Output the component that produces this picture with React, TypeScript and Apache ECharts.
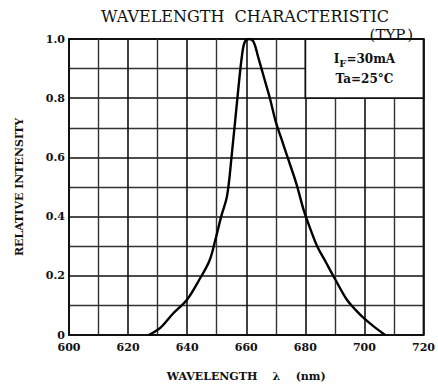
import React, { useEffect, useRef } from "react";
import * as echarts from "echarts";

const wavelengths = [627, 631, 635, 640, 644, 647.5, 649.5, 651.5, 653.5, 655, 657, 658.5, 659.5, 661, 662.5, 664, 666, 668, 670, 672, 674, 677, 679.5, 682, 684, 687, 690, 694, 697, 700, 703, 707];
const intensities = [0, 0.025, 0.07, 0.12, 0.185, 0.25, 0.32, 0.4, 0.47, 0.6, 0.8, 0.94, 0.99, 1.0, 0.99, 0.94, 0.87, 0.8, 0.72, 0.66, 0.6, 0.51, 0.42, 0.35, 0.3, 0.245, 0.19, 0.12, 0.085, 0.055, 0.03, 0];
const xTicks = [600, 620, 640, 660, 680, 700, 720];
const yTicks = [0, 0.2, 0.4, 0.6, 0.8, 1.0];
const noteBox = { x0: 680, x1: 720, y0: 0.8, y1: 1.0 };

const FONT = "DejaVu Serif";

export default function App() {
  const ref = useRef<HTMLDivElement>(null);
  useEffect(() => {
    if (!ref.current) return;
    const chart = echarts.init(ref.current, null, { renderer: "svg" });
    const lineColor = "#111";
    chart.setOption({
      animation: false,
      backgroundColor: "#fff",
      title: [
        {
          text: "WAVELENGTH  CHARACTERISTIC",
          left: 96,
          top: 3,
          textStyle: { fontFamily: FONT, fontSize: 16, fontWeight: "normal", color: "#111" },
        },
        {
          text: "(TYP.)",
          right: 20,
          top: 22,
          textStyle: { fontFamily: FONT, fontSize: 15, fontWeight: "normal", color: "#111" },
        },
      ],
      grid: {
        left: 69,
        top: 39,
        right: 14,
        bottom: 51,
        show: true,
        borderColor: lineColor,
        borderWidth: 1.8,
        backgroundColor: "transparent",
      },
      xAxis: {
        type: "value",
        min: xTicks[0],
        max: xTicks[xTicks.length - 1],
        interval: 20,
        name: "WAVELENGTH    λ    (nm)",
        nameLocation: "middle",
        nameGap: 36,
        nameTextStyle: { fontFamily: FONT, fontSize: 11, fontWeight: "bold", color: "#111" },
        axisLine: { show: true, lineStyle: { color: lineColor, width: 1.8 } },
        axisTick: { show: false },
        axisLabel: { fontFamily: FONT, fontSize: 11, fontWeight: "bold", color: "#111", margin: 7 },
        splitLine: { show: true, lineStyle: { color: lineColor, width: 1.6 } },
        minorTick: { show: false, splitNumber: 2 },
        minorSplitLine: { show: true, lineStyle: { color: "#333", width: 1.4 } },
      },
      yAxis: {
        type: "value",
        min: yTicks[0],
        max: yTicks[yTicks.length - 1],
        interval: 0.2,
        name: "RELATIVE INTENSITY",
        nameLocation: "middle",
        nameGap: 44,
        nameTextStyle: { fontFamily: FONT, fontSize: 11, fontWeight: "bold", color: "#111" },
        axisLine: { show: true, lineStyle: { color: lineColor, width: 1.8 } },
        axisTick: { show: false },
        axisLabel: {
          fontFamily: FONT,
          fontSize: 11,
          fontWeight: "bold",
          color: "#111",
          margin: 4,
          formatter: (v: number) => (v === 0 ? "0" : v.toFixed(1)),
        },
        splitLine: { show: true, lineStyle: { color: lineColor, width: 1.6 } },
        minorTick: { show: false, splitNumber: 2 },
        minorSplitLine: { show: true, lineStyle: { color: "#333", width: 1.4 } },
      },
      series: [
        {
          type: "line",
          data: wavelengths.map((w, i) => [w, intensities[i]]),
          smooth: 0.35,
          symbol: "none",
          lineStyle: { color: "#000", width: 2.4 },
          markArea: {
            silent: true,
            itemStyle: { color: "#fff", opacity: 1, borderColor: lineColor, borderWidth: 1.8 },
            label: {
              show: true,
              position: "inside",
              fontFamily: FONT,
              lineHeight: 20,
              formatter: "{a|I}{s|F}{a|=30mA}\n{a|Ta=25°C}",
              rich: {
                a: { fontFamily: FONT, fontSize: 12, fontWeight: "bold", color: "#111", lineHeight: 20 },
                s: { fontFamily: FONT, fontSize: 10, fontWeight: "bold", color: "#111", verticalAlign: "bottom", padding: [6, 0, 0, 0], lineHeight: 20 },
              },
            },
            data: [[{ xAxis: noteBox.x0, yAxis: noteBox.y1 }, { xAxis: noteBox.x1, yAxis: noteBox.y0 }]],
          },
        },
      ],
    });
    return () => chart.dispose();
  }, []);
  return <div ref={ref} style={{ position: "fixed", left: 0, top: 0, width: 438, height: 387 }} />;
}
